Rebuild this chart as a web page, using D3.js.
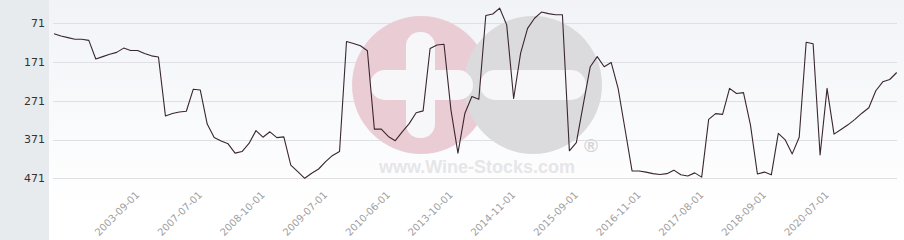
<!DOCTYPE html>
<html>
<head>
<meta charset="utf-8">
<script src="https://cdn.jsdelivr.net/npm/d3@7"></script>
<style>
  html, body { margin: 0; padding: 0; background: #fff; }
  svg { display: block; font-family: "DejaVu Sans", sans-serif; }
</style>
</head>
<body>
<svg id="chart"></svg>
<script>
// rank values, one per point (lower rank = higher on the chart)
let ranks = [
    98, 104, 108, 112, 112, 115, 163, 157, 151, 146,
    135, 141, 141, 149, 155, 158, 310, 304, 300, 298,
    241, 243, 331, 366, 375, 382, 406, 402, 381, 348,
    365, 351, 366, 364, 437, 454, 471, 458, 447, 428,
    412, 402, 118, 123, 129, 142, 344, 344, 363, 374,
    351, 330, 302, 297, 136, 127, 125, 295, 406, 303,
    260, 267, 51, 47, 32, 75, 265, 148, 84, 58,
    42, 46, 49, 49, 400, 379, 280, 183, 157, 183,
    172, 239, 345, 452, 452, 455, 459, 461, 459, 450,
    462, 465, 457, 468, 319, 304, 306, 239, 252, 250,
    333, 460, 455, 462, 355, 372, 408, 365, 120, 124,
    411, 239, 357, 345, 333, 319, 303, 289, 245, 222,
    216, 198
];

let tickLabels = ["2003-09-01", "2007-07-01", "2008-10-01", "2009-07-01", "2010-06-01", "2013-10-01",
    "2014-11-01", "2015-09-01", "2016-11-01", "2017-08-01", "2018-09-01", "2020-07-01"];
let tickPoints = [12, 21, 30, 39, 48, 57, 66, 75, 84, 93, 102, 111];

let yTicks = [71, 171, 271, 371, 471];

let width = 904;
let height = 240;
let panelWidth = 49;

let svg = d3.select("#chart").attr("width", width).attr("height", height);

let x = d3.scalePoint().domain(d3.range(ranks.length)).range([54, 896.7]);
let y = d3.scaleLinear().domain([71, 471]).range([23.3, 178.3]);

// backgrounds
let defs = svg.append("defs");
let grad = defs.append("linearGradient").attr("id", "bg").attr("x1", 0).attr("x2", 0).attr("y1", 0).attr("y2", 1);
grad.append("stop").attr("offset", "0%").attr("stop-color", "#f1f3f7");
grad.append("stop").attr("offset", "85%").attr("stop-color", "#ffffff");

svg.append("rect").attr("x", 0).attr("y", 0).attr("width", width).attr("height", height).attr("fill", "url(#bg)");
svg.append("rect").attr("x", 0).attr("y", 0).attr("width", panelWidth).attr("height", height).attr("fill", "#e8ebee");

// grid
svg.append("g")
    .selectAll("line")
    .data(yTicks)
    .join("line")
    .attr("x1", 53)
    .attr("x2", 897)
    .attr("y1", d => Math.round(y(d)) + 0.5)
    .attr("y2", d => Math.round(y(d)) + 0.5)
    .attr("stroke", "#e0e0e2")
    .attr("stroke-width", 1);

// watermark
let wm = svg.append("g");
wm.append("circle").attr("cx", 421).attr("cy", 85).attr("r", 69).attr("fill", "#eacdd4");
wm.append("circle").attr("cx", 533).attr("cy", 85).attr("r", 69).attr("fill", "#dbdbdd");
wm.append("rect").attr("x", 406).attr("y", 32).attr("width", 29).attr("height", 106).attr("rx", 14).attr("fill", "#f7f7f9");
wm.append("rect").attr("x", 370).attr("y", 70).attr("width", 103).attr("height", 30).attr("rx", 15).attr("fill", "#f7f7f9");
wm.append("rect").attr("x", 480).attr("y", 70).attr("width", 106).attr("height", 30).attr("rx", 15).attr("fill", "#f7f7f9");
wm.append("text")
    .attr("x", 477).attr("y", 173)
    .attr("text-anchor", "middle")
    .style("font", "bold 18px 'Liberation Sans', Arial, sans-serif")
    .attr("fill", "#e6e6e8")
    .text("www.Wine-Stocks.com");
wm.append("text")
    .attr("x", 591).attr("y", 152)
    .attr("text-anchor", "middle")
    .style("font", "bold 19px 'Liberation Sans', Arial, sans-serif")
    .attr("fill", "#d4d4d6")
    .text("®");

// y axis labels
svg.append("g")
    .selectAll("text")
    .data(yTicks)
    .join("text")
    .attr("x", 45)
    .attr("y", d => y(d))
    .attr("dy", "0.35em")
    .attr("text-anchor", "end")
    .attr("fill", "#333")
    .style("font-size", "11px")
    .text(d => d);

// x axis labels
svg.append("g")
    .selectAll("text")
    .data(tickPoints)
    .join("text")
    .attr("transform", d => `translate(${x(d)},${193}) rotate(-45)`)
    .attr("text-anchor", "end")
    .attr("dy", "0.35em")
    .attr("fill", "#a0a0a0")
    .style("font-size", "10px")
    .text((d, i) => tickLabels[i]);

// line
let line = d3.line()
    .x((d, i) => x(i))
    .y(d => y(d));

svg.append("path")
    .datum(ranks)
    .attr("d", line)
    .attr("fill", "none")
    .attr("stroke", "#3a2631")
    .attr("stroke-width", 1.1)
    .attr("stroke-linejoin", "round");
</script>
</body>
</html>
